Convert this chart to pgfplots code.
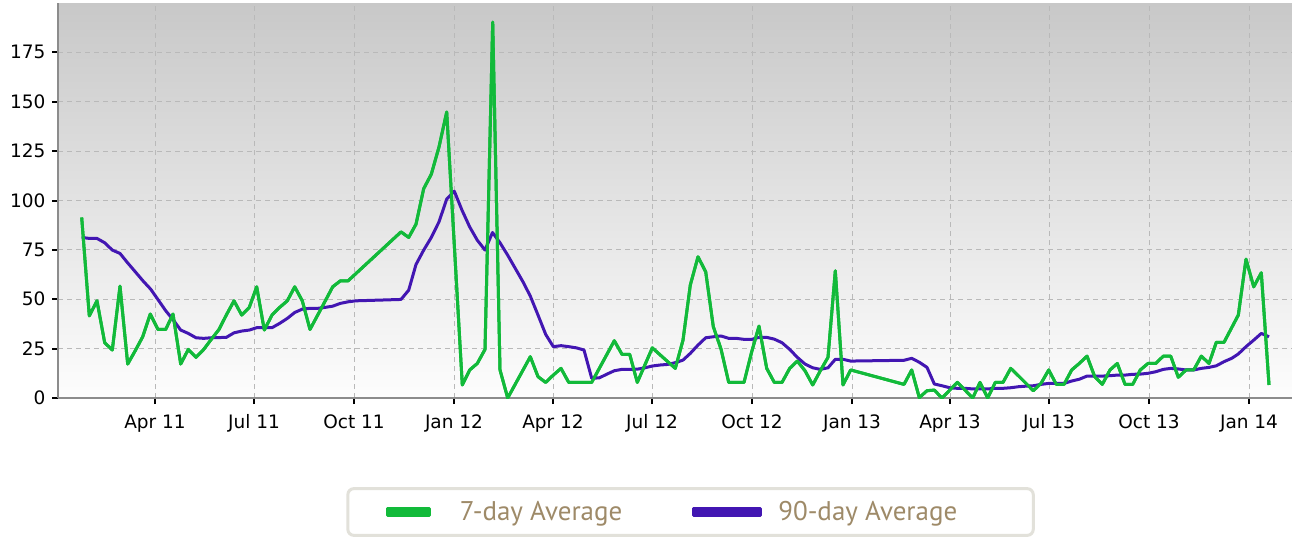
\documentclass[border=0pt]{standalone}
\usepackage{fontspec}
\setmainfont{DejaVu Sans}
\newfontfamily\legfont{PT Sans}
\usepackage{pgfplots}
\pgfplotsset{compat=1.18}
\definecolor{lgreen}{RGB}{18,186,58}
\definecolor{lpurple}{RGB}{66,22,178}
\definecolor{axgray}{RGB}{140,140,140}
\definecolor{gridgray}{RGB}{185,185,185}
\definecolor{legtext}{RGB}{158,138,104}
\definecolor{legborder}{RGB}{226,225,218}
\definecolor{bgtop}{RGB}{200,200,200}
\definecolor{bgbot}{RGB}{253,253,253}
\pgfplotstableread{
x y
81.7 91.4
89.3 41.6
97.0 49.2
104.7 28.0
112.3 24.3
120.0 56.6
127.7 17.2
135.3 24.0
142.7 31.0
150.3 42.5
158.0 34.7
165.7 34.7
173.0 42.5
180.7 17.2
188.3 24.6
196.0 20.6
203.7 24.6
211.3 29.7
219.0 34.7
226.3 42.0
234.0 49.2
241.7 42.0
249.3 45.9
256.7 56.3
264.3 34.4
272.0 42.0
279.7 45.9
287.3 49.2
294.7 56.3
302.3 49.2
310.0 34.7
317.7 42.0
325.3 49.2
332.7 56.3
340.3 59.3
348.0 59.3
401.0 84.1
408.7 81.3
416.0 88.0
423.7 106.0
431.3 113.3
439.0 127.1
446.7 144.8
462.3 6.6
469.7 14.2
477.3 17.5
485.0 24.6
492.7 190.3
500.0 14.2
507.7 0
530.3 20.9
538.0 10.8
545.7 7.9
553.3 11.6
561.0 15.0
568.7 7.9
576.3 7.9
584.0 7.9
591.7 7.9
614.3 29.0
622.0 22.1
629.7 22.1
637.3 7.9
652.3 25.4
667.7 18.4
675.3 15.0
683.0 29.3
690.3 57.2
698.0 71.5
705.7 63.9
713.3 36.1
721.0 24.8
728.7 7.9
736.3 7.9
744.0 7.9
751.7 23.4
759.0 36.4
766.7 15.0
774.3 7.9
782.0 7.9
789.7 15.0
797.3 18.7
805.0 13.8
812.7 6.6
820.3 13.8
828.0 20.6
835.3 64.4
843.0 6.6
850.7 14.2
904.0 6.9
911.7 14.2
919.3 0.2
927.0 3.7
934.3 4.0
942.0 0
957.3 7.9
965.0 4.0
972.7 0
980.0 7.9
987.7 0
995.3 7.9
1003.0 7.9
1010.7 15.0
1018.3 11.3
1026.0 7.4
1033.3 3.7
1041.0 7.4
1048.7 14.2
1056.3 6.9
1064.0 6.9
1071.7 14.2
1079.3 17.5
1087.0 21.2
1094.7 10.8
1102.3 6.9
1110.0 14.2
1117.3 17.5
1125.0 6.9
1132.7 6.9
1140.3 14.2
1148.0 17.5
1155.7 17.5
1163.3 21.2
1170.7 21.2
1178.3 10.5
1186.0 14.2
1193.7 14.2
1201.3 21.2
1209.0 17.5
1216.3 28.2
1224.0 28.2
1238.3 42.0
1246.0 70.3
1253.7 56.3
1261.3 63.4
1269.0 6.6
}\sevenday
\pgfplotstableread{
x y
81.7 81.3
89.3 80.8
97.0 80.8
104.7 78.6
112.3 74.9
120.0 73.2
127.7 68.4
135.3 63.9
143.0 59.3
150.7 55.1
158.3 49.6
165.7 44.2
173.3 39.5
180.7 34.4
188.3 32.7
196.0 30.5
203.7 30.2
211.0 30.5
218.7 30.6
226.3 30.7
234.0 33.0
241.7 33.9
249.3 34.4
256.7 35.6
264.3 35.6
272.0 35.6
279.7 37.8
287.3 40.3
294.7 43.3
302.3 45.0
310.0 45.4
317.7 45.4
325.3 45.9
332.7 46.5
340.3 47.9
348.0 48.7
355.7 49.2
401.0 49.9
408.7 54.6
416.0 67.6
423.7 74.9
431.3 81.3
439.0 89.2
446.7 100.7
454.3 104.7
462.0 95.1
469.7 86.6
477.3 79.9
485.0 74.9
492.5 83.8
500.0 78.6
507.7 72.3
515.3 65.6
523.0 58.8
530.3 51.6
538.0 42.0
545.7 32.2
553.3 26.0
561.0 26.5
568.7 26.0
576.3 25.4
584.0 24.3
591.7 10.0
599.3 10.2
607.0 12.1
614.3 13.8
622.0 14.5
629.7 14.5
637.3 14.6
645.0 15.3
652.3 16.2
660.0 16.7
667.7 17.0
675.3 17.9
683.0 19.2
690.3 22.6
698.0 26.8
705.7 30.5
713.3 31.0
721.0 31.4
728.7 30.2
736.3 30.2
744.0 29.7
751.7 29.7
759.0 30.7
766.7 30.7
774.3 29.8
782.0 28.0
789.7 24.6
797.3 20.6
805.0 17.2
812.7 15.3
820.3 14.5
828.0 15.3
835.3 19.6
843.0 19.6
850.7 18.7
904.0 19.1
911.7 20.1
919.3 18.1
927.0 15.5
934.3 7.1
942.0 6.2
949.7 5.2
957.3 4.9
965.0 4.9
972.7 4.6
980.0 4.6
987.7 4.6
995.3 4.9
1003.0 4.9
1010.7 5.2
1018.3 5.7
1026.0 6.0
1033.3 6.2
1041.0 6.9
1048.7 7.4
1056.3 7.4
1064.0 7.4
1071.7 8.6
1079.3 9.5
1087.0 11.1
1094.7 11.1
1102.3 11.1
1110.0 11.3
1117.3 11.6
1125.0 11.6
1132.7 12.0
1140.3 12.1
1148.0 12.5
1155.7 13.3
1163.3 14.5
1170.7 15.0
1178.3 14.7
1186.0 14.2
1193.7 14.2
1201.3 15.0
1209.0 15.5
1216.3 16.3
1224.0 18.4
1231.7 20.1
1238.3 22.3
1246.0 26.0
1253.7 29.3
1261.3 32.7
1269.0 31.0
}\ninetyday
\begin{document}
\begin{tikzpicture}[x=1pt,y=1pt]
\useasboundingbox (0,0) rectangle (1292,539);
\begin{axis}[
  at={(58pt,141pt)}, anchor=south west,
  scale only axis, width=1234pt, height=395pt,
  xmin=58, xmax=1292, ymin=0, ymax=200,
  axis lines*=left,
  axis line style={axgray, line width=2.5pt, -},
  xtick={155,254,354,454,553,652,752,852,950,1049,1149,1249},
  xticklabels={Apr 11, Jul 11, Oct 11, Jan 12, Apr 12, Jul 12, Oct 12, Jan 13, Apr 13, Jul 13, Oct 13, Jan 14},
  ytick={0,25,...,175},
  grid=major,
  major grid style={gridgray, dash pattern=on 5pt off 4pt, line width=1pt},
  tick align=outside, major tick length=6pt,
  tick style={black, line width=2pt},
  ticklabel style={font=\fontsize{18.5}{21}\selectfont},
  xticklabel style={yshift=-7pt},
  yticklabel style={xshift=-3pt},
  /pgf/number format/assume math mode=true,
  axis background/.style={top color=bgtop, bottom color=bgbot},
  legend columns=2,
  legend style={at={(0.5126,-0.2886)}, anchor=center, draw=legborder, line width=3pt,
    rounded corners=6pt, fill=white, inner xsep=38pt, inner ysep=13pt,
    font=\legfont\fontsize{27}{29}\selectfont, text=legtext,
    nodes={inner sep=0pt},
    /tikz/every odd column/.append style={column sep=0pt},
    /tikz/every even column/.append style={column sep=70pt}},
  legend cell align=left,
]
\addplot[lgreen, line width=3pt, line join=round,
  legend image code/.code={\fill[lgreen, sharp corners] (0pt,-3.5pt) rectangle (42pt,3.5pt); \path (71pt,0pt);}]
  table[x=x,y=y] {\sevenday};
\addlegendentry{7-day Average}
\addplot[lpurple, line width=3pt, line join=round,
  legend image code/.code={\fill[lpurple, sharp corners] (0pt,-3.5pt) rectangle (67pt,3.5pt); \path (83pt,0pt);}]
  table[x=x,y=y] {\ninetyday};
\addlegendentry{90-day Average\hspace*{38pt}\null}
\addplot[lgreen, line width=3pt, line join=round, forget plot]
  table[x=x,y=y] {\sevenday};
\end{axis}
\end{tikzpicture}
\end{document}
